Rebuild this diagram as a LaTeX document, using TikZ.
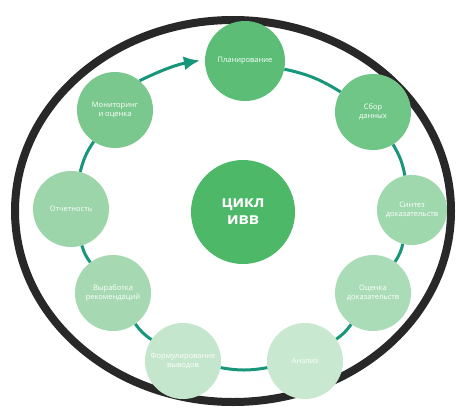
\documentclass[tikz,border=0pt]{standalone}
\usepackage{fontspec}
\setmainfont{Open Sans}
\usetikzlibrary{arrows.meta}
\definecolor{ring}{RGB}{40,40,40}
\definecolor{teal}{RGB}{23,150,122}
\definecolor{c0}{RGB}{76,184,104}
\definecolor{c1}{RGB}{92,190,118}
\definecolor{c2}{RGB}{112,198,134}
\definecolor{c3}{RGB}{160,216,174}
\definecolor{c4}{RGB}{170,220,183}
\definecolor{c5}{RGB}{200,233,208}
\definecolor{c6}{RGB}{196,230,204}
\definecolor{c7}{RGB}{166,217,178}
\definecolor{c8}{RGB}{156,213,170}
\definecolor{c9}{RGB}{122,200,142}
\begin{document}
\begin{tikzpicture}[x=1pt,y=-1pt]
\tikzstyle{st}=[circle, draw=none, minimum size=76pt, inner sep=1pt, text=white, align=center, font=\fontsize{7.5}{8.5}\selectfont]
\tikzstyle{cyc}=[draw=teal, line width=3pt]
\useasboundingbox (0,0) rectangle (462,409);
\fill[white] (0,0) rectangle (462,409);
\draw[line width=8pt, color=ring] (233,211) ellipse (218 and 191);

\node[st, fill=c1, minimum size=80pt] (S1) at (245,61) {Планирование};
\node[st, fill=c2] (S2) at (373,112) {Сбор\\данных};
\node[st, fill=c3, minimum size=70pt] (S3) at (412,210) {Синтез\\доказательств};
\node[st, fill=c4] (S4) at (373,293) {Оценка\\доказательств};
\node[st, fill=c5] (S5) at (305,361) {Анализ};
\node[st, fill=c6] (S6) at (183,361) {Формулирование\\выводов};
\node[st, fill=c7] (S7) at (113,293) {Выработка\\рекомендаций};
\node[st, fill=c8] (S8) at (71,209) {Отчетность};
\node[st, fill=c9] (S9) at (115,110) {Мониторинг\\и оценка};
\node[st, fill=c0, minimum size=104pt, font=\fontsize{16}{17}\selectfont\bfseries] (C) at (243,212) {цикл\\ивв};

\draw[cyc] (S1) to[bend left=10] (S2);
\draw[cyc] (S2) to[bend left=10] (S3);
\draw[cyc] (S3) to[bend left=10] (S4);
\draw[cyc] (S4) to[bend left=10] (S5);
\draw[cyc] (S5) to[bend left=10] (S6);
\draw[cyc] (S6) to[bend left=10] (S7);
\draw[cyc] (S7) to[bend left=10] (S8);
\draw[cyc] (S8) to[bend left=10] (S9);
\draw[cyc, -{Latex[length=16pt,width=14pt]}, shorten >=5pt] (S9.50) to[bend left=8] (S1.178);
\end{tikzpicture}
\end{document}
